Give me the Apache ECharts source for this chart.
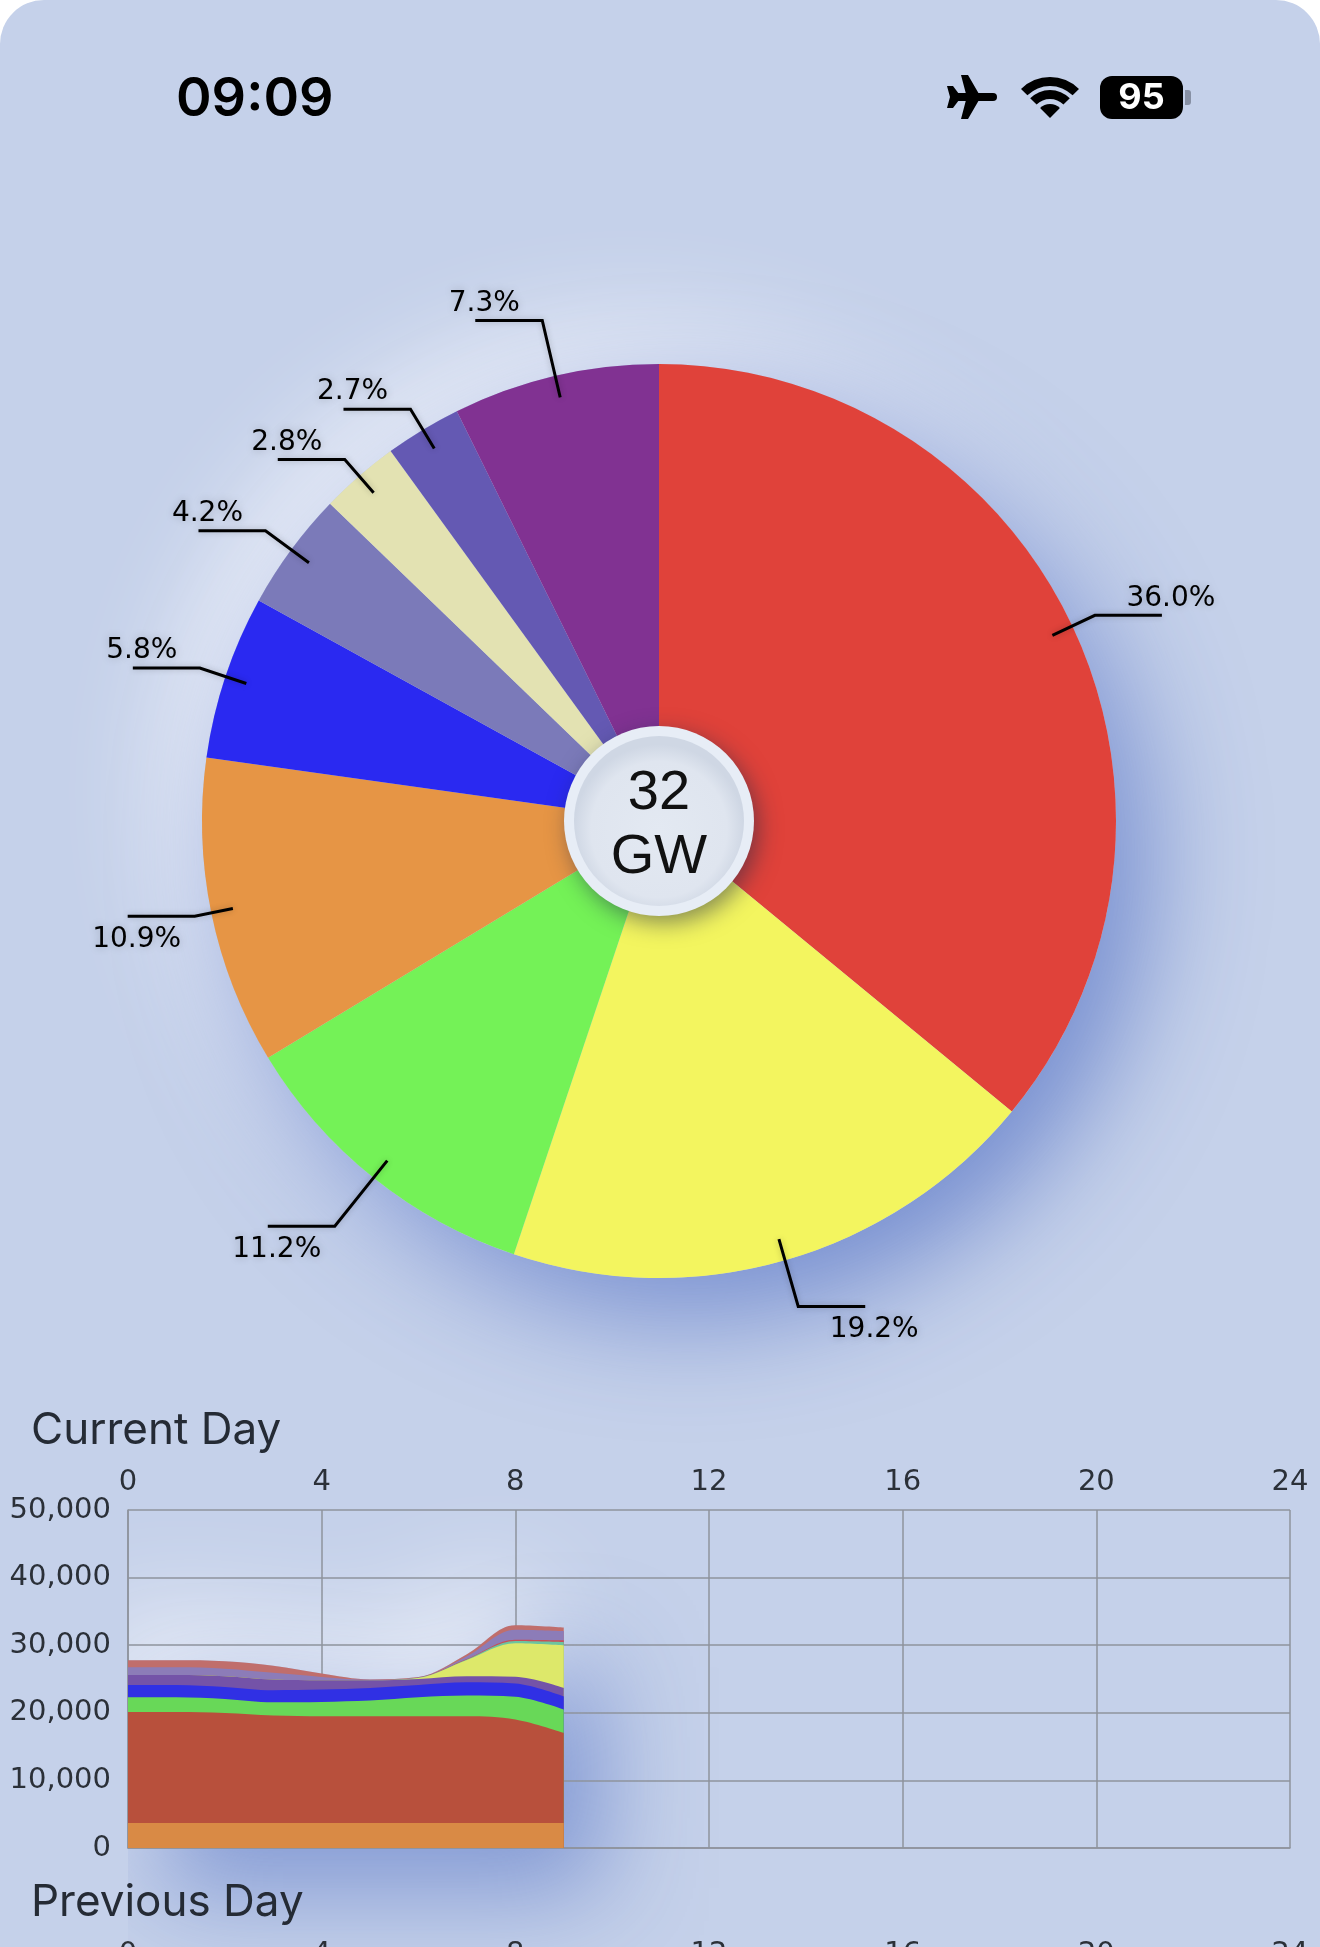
<!DOCTYPE html>
<html><head><meta charset="utf-8">
<script src="https://cdn.jsdelivr.net/npm/echarts@6/dist/echarts.min.js"></script>
<style>
html,body{margin:0;padding:0;background:#ffffff;overflow:hidden}
#wrap{width:1320px;height:1947px;background:#c5d1ea;border-radius:44px 44px 0 0;overflow:hidden}
#chart{width:1320px;height:1947px}
</style></head>
<body><div id="wrap"><div id="chart"></div></div>
<script>
// ---------- Pie (current mix, %) ----------
const pieNames  = ['Red', 'Yellow', 'Green', 'Orange', 'Blue', 'Slate', 'Pale yellow', 'Indigo', 'Purple'];
const pieValues = [36.0, 19.2, 11.2, 10.9, 5.8, 4.2, 2.8, 2.7, 7.3];
const pieColors = ['#e0423a', '#f3f55f', '#74f257', '#e69545', '#2a29f1', '#7b7ab9', '#e3e2b2', '#6459b3', '#813292'];
const totalText = ['32', 'GW'];

// ---------- Current day stacked area (MW), bottom layer first ----------
const hours      = [0, 1, 2, 3, 4, 5, 6, 7, 8, 9];
const bandOrange = [3700, 3700, 3700, 3700, 3700, 3700, 3700, 3700, 3700, 3700];
const bandRed    = [16430, 16430, 16280, 15890, 15790, 15790, 15790, 15790, 15300, 13320];
const bandGreen  = [2170, 2170, 2070, 1970, 2120, 2320, 2810, 3060, 3360, 3450];
const bandBlue   = [1820, 1820, 1780, 1780, 1820, 1870, 1820, 1970, 1970, 1950];
const bandPurple = [1480, 1480, 1580, 1570, 1380, 1130, 890, 890, 990, 1250];
const bandYellow = [0, 0, 0, 0, 0, 20, 150, 2400, 4950, 6300];
const bandTeal   = [0, 0, 0, 0, 0, 0, 20, 80, 350, 500];
const bandRed2   = [0, 0, 0, 0, 0, 0, 20, 80, 200, 250];
const bandSlate  = [1130, 1130, 1120, 1000, 500, 50, 40, 400, 1480, 1380];
const bandPink   = [1040, 1040, 1100, 1050, 500, 50, 40, 300, 640, 500];
const areaBands  = [bandOrange, bandRed, bandGreen, bandBlue, bandPurple, bandYellow, bandTeal, bandRed2, bandSlate, bandPink];
const areaNames  = ['Orange', 'Red', 'Green', 'Blue', 'Purple', 'Yellow', 'Teal', 'Red 2', 'Slate', 'Pink'];
const areaColors = ['#d98a45', '#b8503c', '#68d858', '#3030e4', '#7453a8', '#dde86a', '#6cc3a0', '#c84e55', '#8c7cb8', '#c06e6c'];

// ---------- Axis ticks ----------
const xTickMin = 0, xTickMax = 24, xTickStep = 4;
const yTickMin = 0, yTickMax = 50000, yTickStep = 10000;
const titles = ['Current Day', 'Previous Day'];

const statusTime = '09:09';
const batteryText = '95';

// ---------- styling constants ----------
const PIE_C = [659, 821], PIE_R = 457, LINE_INSET = 22;
const leaderLengths = [25, 48, 62, 17, 27, 32, 22, 24, 57]; // outward leader length per slice (style)
const BG = '#c5d1ea';
const GRID_LINE = '#8e939c';
const AX_TXT = '#2b3038';

const chart = echarts.init(document.getElementById('chart'), null, {renderer: 'canvas'});

// cumulative tops of each layer (stack computed from the band arrays)
const cumulative = areaBands.map((b, k) => hours.map((h, i) => {
  let s = 0; for (let j = 0; j <= k; j++) s += areaBands[j][i]; return s;
}));
const totals = cumulative[cumulative.length - 1];
const pairs = arr => hours.map((h, i) => [h, arr[i]]);

// put the percentage text above (upper half) or below (lower half) the horizontal leader,
// keeping the leader exactly as the pie laid it out
function labelLayout(params) {
  const pts = params.labelLinePoints;
  if (!pts || pts.length < 3) return {};
  const p2 = pts[2];
  const upper = pts[1][1] < PIE_C[1];
  return {
    x: p2[0] + 9,
    y: upper ? p2[1] - 3 : p2[1] + 9,
    align: 'center',
    verticalAlign: upper ? 'bottom' : 'top',
    labelLinePoints: pts.map(p => [p[0], p[1]])
  };
}

const axisCommonX = (gi) => ({
  gridIndex: gi, type: 'value', min: xTickMin, max: xTickMax, interval: xTickStep, position: 'top',
  axisLine: {show: true, lineStyle: {color: GRID_LINE, width: 1.5}},
  axisTick: {show: false},
  splitLine: {show: true, lineStyle: {color: GRID_LINE, width: 1.5}},
  axisLabel: {margin: 13, fontFamily: 'DejaVu Sans', fontSize: 29, color: AX_TXT}
});
const axisCommonY = (gi) => ({
  gridIndex: gi, type: 'value', min: yTickMin, max: yTickMax, interval: yTickStep,
  axisLine: {show: true, lineStyle: {color: GRID_LINE, width: 1.5}},
  axisTick: {show: false},
  splitLine: {show: true, lineStyle: {color: GRID_LINE, width: 1.5}},
  axisLabel: {margin: 17, fontFamily: 'DejaVu Sans', fontSize: 29, color: AX_TXT,
    formatter: v => v.toLocaleString('en-US')}
});

const series = [];

// neumorphic glows behind the pie
series.push({
  type: 'pie', center: PIE_C, radius: [0, PIE_R], silent: true, z: 1,
  label: {show: false}, labelLine: {show: false}, emphasis: {disabled: true},
  data: [{value: 1, itemStyle: {color: BG, shadowBlur: 110, shadowColor: 'rgba(255,255,255,0.85)', shadowOffsetX: -30, shadowOffsetY: -30}}]
});
series.push({
  type: 'pie', center: PIE_C, radius: [0, PIE_R], silent: true, z: 1,
  label: {show: false}, labelLine: {show: false}, emphasis: {disabled: true},
  data: [{value: 1, itemStyle: {color: BG, shadowBlur: 110, shadowColor: 'rgba(50,85,185,0.6)', shadowOffsetX: 30, shadowOffsetY: 36}}]
});
// main pie
series.push({
  type: 'pie', center: PIE_C, radius: [0, PIE_R], z: 2, startAngle: 90, clockwise: true,
  emphasis: {disabled: true}, label: {show: false}, labelLine: {show: false},
  data: pieNames.map((n, i) => ({name: n, value: pieValues[i], itemStyle: {color: pieColors[i]}}))
});
// label carrier: same slices, transparent, slightly smaller so the leader starts inside the slice
series.push({
  type: 'pie', center: PIE_C, radius: [0, PIE_R - LINE_INSET], z: 3, startAngle: 90, clockwise: true, silent: true,
  avoidLabelOverlap: true, emphasis: {disabled: true},
  data: pieNames.map((n, i) => ({name: n, value: pieValues[i], itemStyle: {color: 'rgba(0,0,0,0)'},
    labelLine: {length: leaderLengths[i] + LINE_INSET}})),
  label: {
    show: true, position: 'outside', alignTo: 'none',
    formatter: p => p.value.toFixed(1) + '%',
    fontFamily: 'DejaVu Sans', fontSize: 28, color: '#000',
    textShadowColor: 'rgba(0,0,0,0.22)', textShadowBlur: 8
  },
  labelLine: {show: true, showAbove: true, length: 32 + LINE_INSET, length2: 67, smooth: false,
    lineStyle: {color: '#000', width: 3, shadowColor: 'rgba(0,0,0,0.22)', shadowBlur: 6}},
  labelLayout: labelLayout
});
// center badge
series.push({
  type: 'pie', center: PIE_C, radius: [0, 95], silent: true, z: 4,
  label: {show: false}, labelLine: {show: false}, emphasis: {disabled: true},
  data: [{value: 1, itemStyle: {color: '#e7edf6', shadowBlur: 22, shadowColor: 'rgba(30,40,70,0.5)', shadowOffsetX: 5, shadowOffsetY: 7}}]
});
series.push({
  type: 'pie', center: PIE_C, radius: [0, 85], silent: true, z: 5,
  labelLine: {show: false}, emphasis: {disabled: true},
  label: {show: true, position: 'center', formatter: totalText.join('\n'), offset: [0, 5],
    fontFamily: 'Liberation Sans', fontSize: 56, lineHeight: 64, color: '#111'},
  data: [{value: 1, itemStyle: {color: {type: 'radial', x: 0.5, y: 0.55, r: 0.5,
    colorStops: [{offset: 0, color: '#e3e9f2'}, {offset: 0.8, color: '#dfe5ef'}, {offset: 1, color: '#cfd7e4'}]}}}]
});

// area chart glow (behind the axes)
series.push({
  type: 'line', xAxisIndex: 0, yAxisIndex: 0, data: pairs(totals), smooth: 0.35, symbol: 'none', silent: true, z: -1, clip: false,
  lineStyle: {width: 0}, areaStyle: {color: BG, opacity: 1, shadowBlur: 110, shadowColor: 'rgba(255,255,255,0.75)', shadowOffsetX: -30, shadowOffsetY: -40}
});
series.push({
  type: 'line', xAxisIndex: 0, yAxisIndex: 0, data: pairs(totals), smooth: 0.35, symbol: 'none', silent: true, z: -1, clip: false,
  lineStyle: {width: 0}, areaStyle: {color: BG, opacity: 1, shadowBlur: 100, shadowColor: 'rgba(50,85,185,0.5)', shadowOffsetX: 35, shadowOffsetY: 40}
});
// layers: painted from the top layer down so each lower layer covers its share
for (let k = areaBands.length - 1; k >= 0; k--) {
  series.push({
    type: 'line', name: areaNames[k], xAxisIndex: 0, yAxisIndex: 0, data: pairs(cumulative[k]),
    smooth: 0.35, symbol: 'none', z: 2,
    lineStyle: {width: 0}, areaStyle: {color: areaColors[k], opacity: 1}
  });
}

const graphic = [
  {type: 'text', x: 176, y: 100, style: {text: statusTime, fontFamily: 'Inter', fontWeight: 600, fontSize: 54, fill: '#000', textVerticalAlign: 'middle'}},
  // airplane
  {type: 'rect', shape: {x: 950, y: 93, width: 47, height: 8, r: 4}, style: {fill: '#000'}},
  {type: 'polygon', shape: {points: [[961, 75], [968, 75], [979, 94], [979, 100], [968, 119], [961, 119], [966, 100], [966, 94]]}, style: {fill: '#000'}},
  {type: 'polygon', shape: {points: [[947, 86], [953, 86], [959, 94], [959, 100], [953, 108], [947, 108], [950, 97]]}, style: {fill: '#000'}},
  // wifi
  {type: 'sector', shape: {cx: 1050, cy: 118, r0: 0, r: 14, startAngle: -Math.PI * 0.75, endAngle: -Math.PI * 0.25}, style: {fill: '#000'}},
  {type: 'sector', shape: {cx: 1050, cy: 118, r0: 19, r: 28, startAngle: -Math.PI * 0.75, endAngle: -Math.PI * 0.25}, style: {fill: '#000'}},
  {type: 'sector', shape: {cx: 1050, cy: 118, r0: 32, r: 41, startAngle: -Math.PI * 0.75, endAngle: -Math.PI * 0.25}, style: {fill: '#000'}},
  // battery
  {type: 'rect', shape: {x: 1100, y: 76, width: 83, height: 43, r: 12}, style: {fill: '#000'}},
  {type: 'rect', shape: {x: 1185, y: 90, width: 6, height: 15, r: [0, 3, 3, 0]}, style: {fill: 'rgba(60,65,80,0.45)'}},
  {type: 'text', x: 1141.5, y: 98, style: {text: batteryText, fontFamily: 'Inter', fontWeight: 700, fontSize: 36, fill: '#fff', textAlign: 'center', textVerticalAlign: 'middle'}},
  // section titles
  {type: 'text', x: 31, y: 1431, style: {text: titles[0], fontFamily: 'Inter', fontWeight: 400, fontSize: 44, fill: '#252b35', textVerticalAlign: 'middle'}},
  {type: 'text', x: 31, y: 1903, style: {text: titles[1], fontFamily: 'Inter', fontWeight: 400, fontSize: 44, fill: '#252b35', textVerticalAlign: 'middle'}}
];

chart.setOption({
  animation: false,
  backgroundColor: 'transparent',
  grid: [
    {left: 128, top: 1510, width: 1162, height: 338},
    {left: 128, top: 1982, width: 1162, height: 338}
  ],
  xAxis: [axisCommonX(0), axisCommonX(1)],
  yAxis: [axisCommonY(0), axisCommonY(1)],
  graphic: graphic,
  series: series
});
</script>
</body></html>
